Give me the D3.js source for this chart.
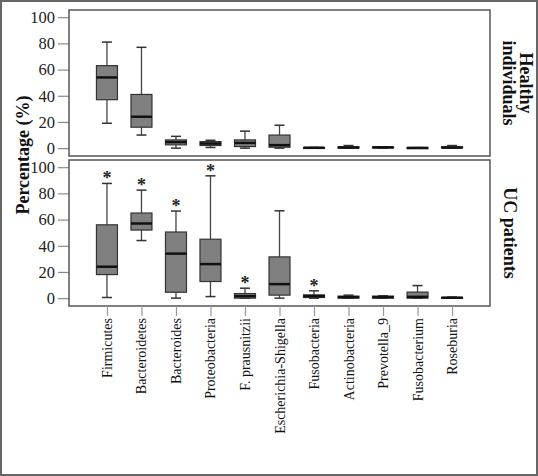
<!DOCTYPE html>
<html><head><meta charset="utf-8">
<script src="https://cdn.jsdelivr.net/npm/d3@7"></script>
<style>body{margin:0;background:#fff}svg{display:block}</style>
</head><body>
<svg id="chart" width="538" height="476"></svg>
<script>
const categories = ["Firmicutes","Bacteroidetes","Bacteroides","Proteobacteria","F. prausnitzii","Escherichia-Shigella","Fusobacteria","Actinobacteria","Prevotella_9","Fusobacterium","Roseburia"];
const yTicks = [0,20,40,60,80,100];
// [low whisker, Q1, median, Q3, high whisker]
const healthyStats = [
  [19,37,54,63,81],
  [10,16,24,41,77],
  [0,2.5,4.6,6.3,9],
  [0.5,2,3.5,5,6],
  [0,1.2,4,6.3,13],
  [0,0.7,2.3,10,17.5],
  [0,0,0.3,0.5,0.5],
  [0,0,0.5,1,2],
  [0,0.3,0.6,0.9,0.9],
  [0,0,0.2,0.4,0.4],
  [0,0,0.5,1,2]
];
const ucStats = [
  [0.5,18,24,56,87.6],
  [44,52,57,65,82.5],
  [0,4.5,34,50.5,66.5],
  [1.2,12.7,26,45,93.4],
  [0,0,1.5,3.5,7.6],
  [0,2.3,10.7,31.5,66.7],
  [0,0.5,1.5,2.5,5.6],
  [0,0,0.8,1.5,2.3],
  [0,0,0.8,1.5,1.8],
  [0,0,1,4.6,9.6],
  [0,0,0.3,0.6,0.8]
];
const ucStars = [true,true,true,true,true,false,true,false,false,false,false];
const panelLabels = [["Healthy","individuals"],["UC patients"]];

const svg = d3.select("#chart");
const serif = "'Liberation Serif','Times New Roman',serif";

// outer border
svg.append("rect").attr("x",1).attr("y",1).attr("width",536).attr("height",474)
  .attr("fill","none").attr("stroke","#666").attr("stroke-width",2);

const left = 69, right = 490;
const x = d3.scalePoint().domain(categories).range([left,right]).padding(1.1);
const boxW = 21, capW = 10;

const panels = [
  {stats: healthyStats, stars: null, top: 10, bottom: 156, label: panelLabels[0]},
  {stats: ucStats, stars: ucStars, top: 160, bottom: 306, label: panelLabels[1]}
];

panels.forEach((p, pi) => {
  const y = d3.scaleLinear().domain([-6,105.5]).range([p.bottom,p.top]);
  const g = svg.append("g");
  // y axis
  const ax = g.append("g").attr("transform",`translate(${left},0)`)
    .call(d3.axisLeft(y).tickValues(yTicks).tickSize(11).tickPadding(3));
  ax.select(".domain").remove();
  ax.selectAll(".tick line").attr("stroke","#888").attr("stroke-width",1.2);
  ax.selectAll(".tick text").attr("font-family",serif).attr("font-size",16.5).attr("fill","#222");

  // frame
  g.append("rect").attr("x",left).attr("y",p.top).attr("width",right-left).attr("height",p.bottom-p.top)
    .attr("fill","none").attr("stroke","#555").attr("stroke-width",1.5);

  const boxes = g.selectAll(".bx").data(p.stats).enter().append("g")
    .attr("transform",(d,i)=>`translate(${x(categories[i])},0)`);
  // whiskers
  boxes.append("line").attr("x1",0).attr("x2",0).attr("y1",d=>y(d[0])).attr("y2",d=>y(d[1]))
    .attr("stroke","#444").attr("stroke-width",1.3);
  boxes.append("line").attr("x1",0).attr("x2",0).attr("y1",d=>y(d[3])).attr("y2",d=>y(d[4]))
    .attr("stroke","#444").attr("stroke-width",1.3);
  boxes.append("line").attr("x1",-capW/2).attr("x2",capW/2).attr("y1",d=>y(d[0])).attr("y2",d=>y(d[0]))
    .attr("stroke","#333").attr("stroke-width",1.5);
  boxes.append("line").attr("x1",-capW/2).attr("x2",capW/2).attr("y1",d=>y(d[4])).attr("y2",d=>y(d[4]))
    .attr("stroke","#333").attr("stroke-width",1.5);
  boxes.append("rect").attr("x",-boxW/2).attr("width",boxW)
    .attr("y",d=>y(d[3])).attr("height",d=>Math.max(1,y(d[1])-y(d[3])))
    .attr("fill","#808080").attr("stroke","#333").attr("stroke-width",1.2);
  boxes.append("line").attr("x1",-boxW/2).attr("x2",boxW/2).attr("y1",d=>y(d[2])).attr("y2",d=>y(d[2]))
    .attr("stroke","#111").attr("stroke-width",2.5);

  if (p.stars) {
    boxes.filter((d,i)=>p.stars[i]).append("text")
      .attr("x",0).attr("y",d=>y(d[4])+1).attr("text-anchor","middle")
      .attr("font-family",serif).attr("font-size",18).attr("font-weight","bold").attr("fill","#222")
      .text("*");
  }

  // right label
  const cy = (p.top+p.bottom)/2;
  const n = p.label.length;
  const lx = n===1 ? 504 : 520;
  const t = svg.append("text").attr("transform",`translate(${lx},${cy}) rotate(90)`)
    .attr("text-anchor","middle").attr("font-family",serif).attr("font-size",18).attr("font-weight","bold").attr("fill","#111");
  p.label.forEach((s,i)=>{
    t.append("tspan").attr("x",0).attr("dy",i===0?0:"0.95em").text(s);
  });

  if (pi === 1) {
    const xa = svg.append("g").attr("transform",`translate(0,${p.bottom})`)
      .call(d3.axisBottom(x).tickSize(10).tickPadding(3));
    xa.select(".domain").remove();
    xa.selectAll(".tick line").attr("stroke","#999").attr("stroke-width",1.2);
    xa.selectAll(".tick text").attr("font-family",serif).attr("font-size",14).attr("fill","#111")
      .attr("transform","rotate(-90)").attr("text-anchor","end").attr("dx","0").attr("dy","0").attr("y",0).attr("x",-12)
      .attr("dominant-baseline","central");
  }
});

// y label
svg.append("text").attr("transform","translate(23,155) rotate(-90)")
  .attr("text-anchor","middle").attr("font-family",serif).attr("font-size",18).attr("font-weight","bold").attr("fill","#111")
  .attr("dominant-baseline","central").text("Percentage (%)");
</script>
</body></html>
